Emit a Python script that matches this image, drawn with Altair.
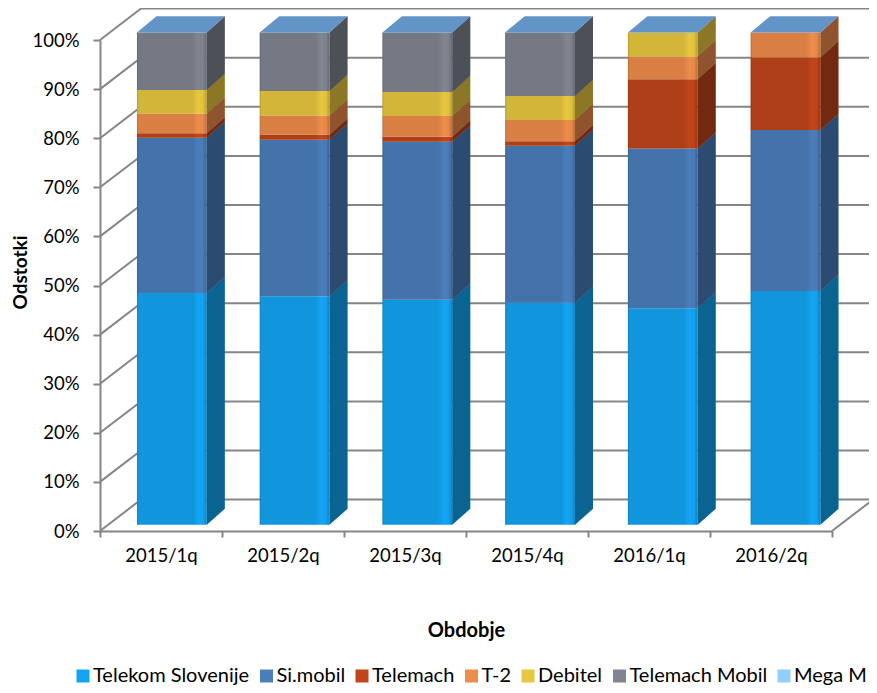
import altair as alt
import pandas as pd

periods = ["2015/1q", "2015/2q", "2015/3q", "2015/4q", "2016/1q", "2016/2q"]
series = ["Telekom Slovenije", "Si.mobil", "Telemach", "T-2", "Debitel", "Telemach Mobil", "Mega M"]
colors = ["#13A5F4", "#4A7EBB", "#C0451A", "#EE8C4B", "#E8C73F", "#808590", "#90CFFF"]
telekom = [47.1, 46.4, 45.7, 45.1, 44.0, 47.5]
simobil = [31.5, 31.8, 32.1, 31.9, 32.4, 32.7]
telemach = [0.9, 1.0, 1.0, 0.9, 14.1, 14.7]
t2 = [4.0, 3.9, 4.2, 4.3, 4.6, 5.1]
debitel = [4.8, 5.0, 4.9, 4.9, 4.9, 0.0]
telemach_mobil = [11.7, 11.9, 12.1, 12.9, 0.0, 0.0]
mega = [0.0, 0.0, 0.0, 0.0, 0.0, 0.0]
all_series = [telekom, simobil, telemach, t2, debitel, telemach_mobil, mega]
ticks = list(range(0, 101, 10))

FONT = "Lato"
GRID = "#858585"
WALL_X, WALL_Y = 0.336, 6.4
BAR_START, BAR_PITCH, BAR_W = 0.303, 1.006, 0.572
DEPTH_X, DEPTH_Y = 0.148, 3.3
LIFT = 1.25
SCALE_Y = 1.003

fronts, sides, shades_front, shades_side, caps = [], [], [], [], []
for i, p in enumerate(periods):
    x0 = BAR_START + i * BAR_PITCH
    x1 = x0 + BAR_W
    base = 0.0
    for s, vals in zip(series, all_series):
        v = vals[i]
        lo = LIFT + base * SCALE_Y
        hi = LIFT + (base + v) * SCALE_Y
        base += v
        if v <= 0:
            continue
        fronts.append(dict(series=s, x=x0, x2=x1, y=lo, y2=hi))
        key = f"{p}-{s}"
        sides.append(dict(key=key, series=s, x=x1, y=lo, y2=hi))
        sides.append(dict(key=key, series=s, x=x1 + DEPTH_X, y=lo + DEPTH_Y, y2=hi + DEPTH_Y))
    lo, hi = LIFT, LIFT + 100 * SCALE_Y
    shades_front.append(dict(x=x0, x2=x1, y=lo, y2=hi))
    shades_side.append(dict(key=p, x=x1, y=lo, y2=hi))
    shades_side.append(dict(key=p, x=x1 + DEPTH_X, y=lo + DEPTH_Y, y2=hi + DEPTH_Y))
    caps += [
        dict(key=p, x=x0, y=hi, y2=hi),
        dict(key=p, x=x0 + 0.16, y=hi + DEPTH_Y, y2=hi),
        dict(key=p, x=x1, y=hi + DEPTH_Y, y2=hi),
        dict(key=p, x=x1 + DEPTH_X, y=hi + DEPTH_Y, y2=hi + DEPTH_Y),
    ]

grid_rows = []
for t in ticks:
    grid_rows.append(dict(t=t, x=0, y=t))
    grid_rows.append(dict(t=t, x=WALL_X, y=t + WALL_Y))
    grid_rows.append(dict(t=t, x=6 + WALL_X, y=t + WALL_Y))
floor_rows = [dict(x=6, y=0), dict(x=6 + WALL_X, y=WALL_Y)]

X = alt.X("x:Q", scale=alt.Scale(domain=[0, 6], nice=False, zero=False),
          axis=alt.Axis(values=list(range(7)), labels=False, title=None, grid=False,
                        domainColor=GRID, domainWidth=2, tickColor=GRID, tickWidth=2, tickSize=6))
Y = alt.Y("y:Q", scale=alt.Scale(domain=[0, 100], nice=False, zero=False),
          axis=alt.Axis(values=ticks, labelExpr="datum.value + '%'", title="Odstotki", grid=False,
                        domainColor=GRID, domainWidth=2, tickColor=GRID, tickWidth=2, tickSize=7,
                        labelPadding=14, labelFont=FONT, labelFontSize=18.5, labelColor="#000000",
                        titleFont=FONT, titleFontSize=19, titleFontWeight="bold", titleColor="#000000",
                        titleX=-70, titleY=232))
color = alt.Color("series:N", scale=alt.Scale(domain=series, range=colors),
                  legend=alt.Legend(orient="none", legendX=-27, legendY=626, direction="horizontal",
                                    columns=7, gridAlign="none", columnPadding=6.5, title=None,
                                    symbolType="square", symbolSize=169, symbolStrokeWidth=0,
                                    symbolOffset=0, labelOffset=0,
                                    labelFont=FONT, labelFontSize=20, labelColor="#000000"))

grid = alt.Chart(pd.DataFrame(grid_rows)).mark_line(color=GRID, strokeWidth=2, clip=False).encode(x=X, y=Y, detail="t:N")
floor = alt.Chart(pd.DataFrame(floor_rows)).mark_line(color=GRID, strokeWidth=2, clip=False).encode(x=X, y=Y)
side = alt.Chart(pd.DataFrame(sides)).mark_area(orient="vertical", clip=False).encode(
    x=X, y=Y, y2="y2:Q", detail="key:N", color=color)
side_shade = alt.Chart(pd.DataFrame(shades_side)).mark_area(orient="vertical", color="#000000", opacity=0.4).encode(
    x=X, y=Y, y2="y2:Q", detail="key:N")
front = alt.Chart(pd.DataFrame(fronts)).mark_rect().encode(x=X, x2="x2:Q", y=Y, y2="y2:Q", color=color)
gradient = alt.LinearGradient(
    gradient="linear", x1=0, x2=1, y1=0, y2=0,
    stops=[
        alt.GradientStop(color="rgba(0,0,0,0.22)", offset=0),
        alt.GradientStop(color="rgba(0,0,0,0.09)", offset=0.025),
        alt.GradientStop(color="rgba(0,0,0,0.09)", offset=0.8),
        alt.GradientStop(color="rgba(0,0,0,0.0)", offset=0.88),
        alt.GradientStop(color="rgba(0,0,0,0.03)", offset=0.95),
        alt.GradientStop(color="rgba(0,0,0,0.22)", offset=1),
    ])
front_shade = alt.Chart(pd.DataFrame(shades_front)).mark_rect(fill=gradient).encode(x=X, x2="x2:Q", y=Y, y2="y2:Q")
cap = alt.Chart(pd.DataFrame(caps)).mark_area(orient="vertical", color="#6294C8").encode(
    x=X, y=Y, y2="y2:Q", detail="key:N")

main = alt.layer(grid, floor, side, side_shade, front, front_shade, cap)

labels = alt.Chart(pd.DataFrame({"period": periods})).mark_point(opacity=0).encode(
    x=alt.X("period:N", sort=periods,
            axis=alt.Axis(orient="bottom", labelAngle=0, ticks=False, domain=False, title="Obdobje",
                          labelFont=FONT, labelFontSize=18.5, labelColor="#000000", labelPadding=15,
                          titleFont=FONT, titleFontSize=20, titleFontWeight="bold", titleColor="#000000",
                          titlePadding=56)),
    y=alt.value(0))

chart = (
    alt.layer(main, labels)
    .resolve_scale(x="independent")
    .resolve_axis(x="independent")
    .properties(width=732, height=491, background="#FFFFFF",
                autosize=alt.AutoSizeParams(type="none"),
                padding={"left": 92, "top": 32, "right": 37, "bottom": 154})
    .configure_view(stroke=None)
)

chart.save("out.html", embed_options={"renderer": "svg", "actions": False})
